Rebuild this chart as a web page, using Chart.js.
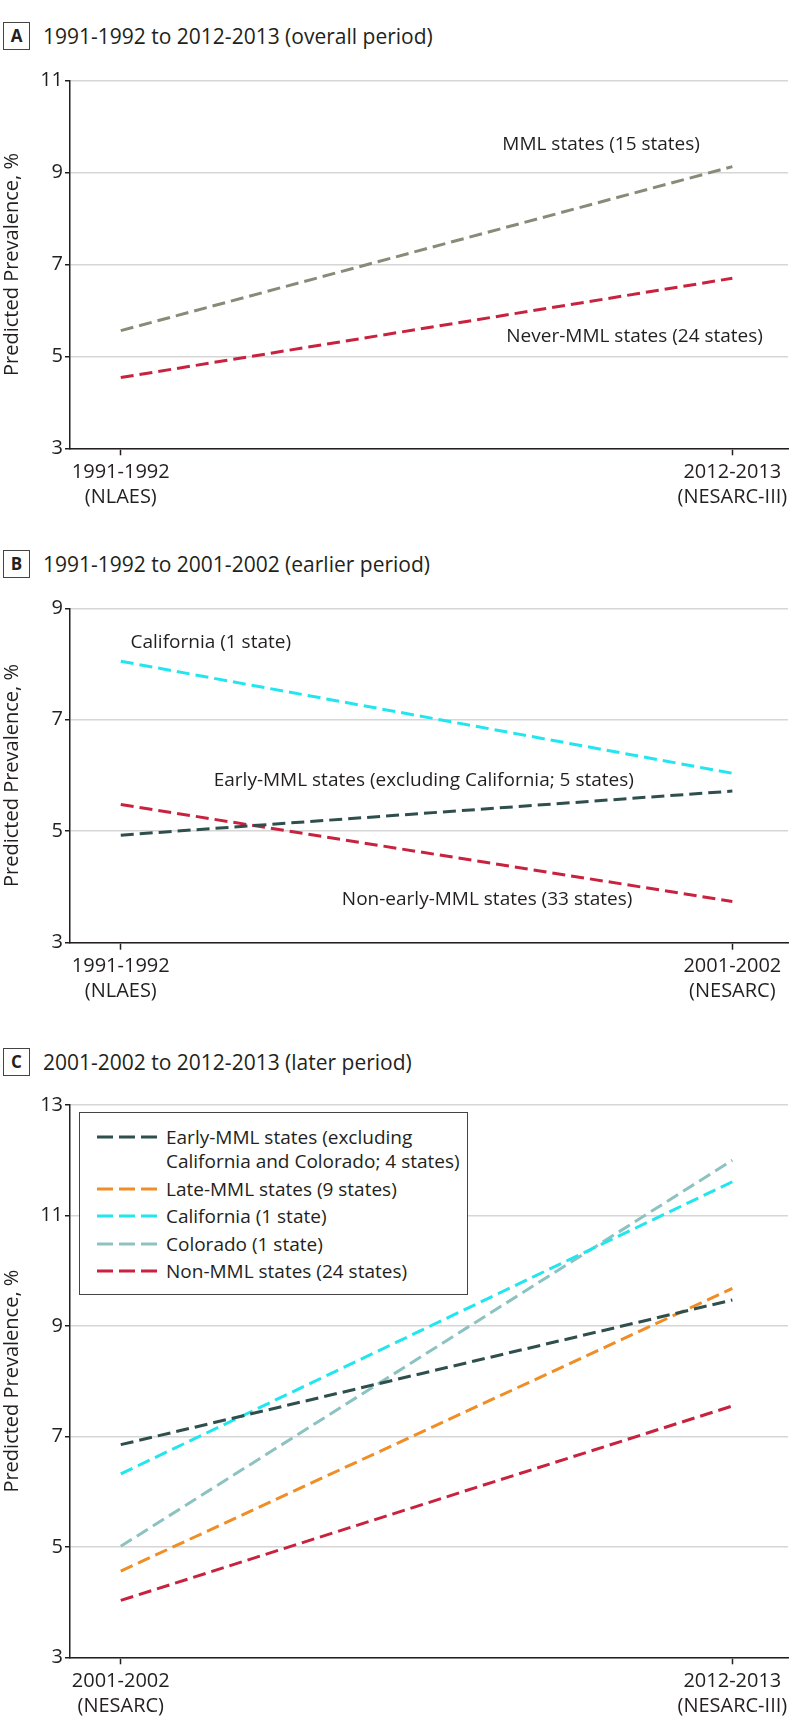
<!DOCTYPE html>
<html>
<head>
<meta charset="utf-8">
<script src="https://cdn.jsdelivr.net/npm/chart.js@4.4.1/dist/chart.umd.min.js"></script>
<style>
body { margin: 0; background: #fff; font-family: "Open Sans", sans-serif; color: #231f20; }
#page { position: relative; width: 794px; height: 1731px; overflow: hidden; }
.ttl { position: absolute; left: 0; height: 30px; display: flex; align-items: center; font-size: 21px; white-space: nowrap; }
.ttl b { display: inline-block; box-sizing: border-box; width: 27px; height: 28px; margin-left: 3px; margin-right: 13px;
  border: 1px solid #444; font-size: 17px; line-height: 26px; text-align: center; }
.wrap { position: absolute; left: 0; width: 794px; }
#legendC { position: absolute; left: 79px; top: 1112px; width: 389px; height: 183px; box-sizing: border-box;
  border: 1px solid #444; background: #fff; padding-top: 12px; font-size: 19px; }
#legendC .row { display: flex; align-items: flex-start; line-height: 24px; margin-bottom: 3.5px; }
#legendC svg { flex: none; margin-left: 17px; margin-right: 9px; }
</style>
</head>
<body>
<div id="page">
  <div class="ttl" style="top:21px"><b>A</b>1991-1992 to 2012-2013 (overall period)</div>
  <div class="wrap" style="top:60px;height:460px"><canvas id="chartA" width="794" height="460"></canvas></div>

  <div class="ttl" style="top:549px"><b>B</b>1991-1992 to 2001-2002 (earlier period)</div>
  <div class="wrap" style="top:560px;height:460px"><canvas id="chartB" width="794" height="460"></canvas></div>

  <div class="ttl" style="top:1047px"><b>C</b>2001-2002 to 2012-2013 (later period)</div>
  <div class="wrap" style="top:1080px;height:651px"><canvas id="chartC" width="794" height="651"></canvas></div>
  <div id="legendC"></div>
</div>
<script>
// survey periods (x axis, two-line labels)
const periodsA = [["1991-1992", "(NLAES)"], ["2012-2013", "(NESARC-III)"]];
const periodsB = [["1991-1992", "(NLAES)"], ["2001-2002", "(NESARC)"]];
const periodsC = [["2001-2002", "(NESARC)"], ["2012-2013", "(NESARC-III)"]];

// y ticks
const yTicksA = [3, 5, 7, 9, 11];
const yTicksB = [3, 5, 7, 9];
const yTicksC = [3, 5, 7, 9, 11, 13];

// predicted prevalence, %
const mmlA = [5.56, 9.13];
const neverMmlA = [4.54, 6.70];

const californiaB = [8.05, 6.04];
const earlyMmlB = [4.93, 5.72];
const nonEarlyMmlB = [5.48, 3.74];

const earlyMmlC = [6.85, 9.47];
const lateMmlC = [4.56, 9.68];
const californiaC = [6.32, 11.61];
const coloradoC = [5.01, 12.0];
const nonMmlC = [4.03, 7.55];

var textColor = "#231f20";
var font = "Open Sans";

function toPoints(vals) {
    var pts = [];
    for (var i = 0; i < vals.length; i++) {
        pts.push({ x: i, y: vals[i] });
    }
    return pts;
}

function line(label, vals, color) {
    return {
        label: label,
        data: toPoints(vals),
        borderColor: color,
        borderWidth: 3,
        borderDash: [13, 6],
        pointRadius: 0,
        fill: false,
        tension: 0
    };
}

// in-plot labels, drawn at data coordinates
var notesPlugin = {
    id: "notes",
    afterDatasetsDraw: function (chart, args, opts) {
        var notes = opts.items || [];
        var ctx = chart.ctx;
        ctx.save();
        ctx.font = "19px '" + font + "'";
        ctx.fillStyle = textColor;
        ctx.textBaseline = "middle";
        for (var i = 0; i < notes.length; i++) {
            var n = notes[i];
            ctx.textAlign = n.align;
            ctx.fillText(n.text, chart.scales.x.getPixelForValue(n.x), chart.scales.y.getPixelForValue(n.y));
        }
        ctx.restore();
    }
};

function makeChart(id, datasets, periods, yTicks, padTop, xHeight, notes) {
    return new Chart(id, {
        type: "line",
        data: { datasets: datasets },
        plugins: [notesPlugin],
        options: {
            responsive: false,
            animation: false,
            layout: { padding: { top: padTop, right: 6, left: 0, bottom: 0 } },
            plugins: {
                legend: { display: false },
                tooltip: { enabled: false },
                notes: { items: notes }
            },
            scales: {
                x: {
                    type: "linear",
                    min: -0.083,
                    max: 1.091,
                    afterBuildTicks: function (s) {
                        s.ticks = periods.map(function (p, i) { return { value: i }; });
                    },
                    afterFit: function (s) { s.height = xHeight; },
                    ticks: {
                        autoSkip: false,
                        maxRotation: 0,
                        padding: 4,
                        color: textColor,
                        font: { family: font, size: 20, lineHeight: 1.25 },
                        callback: function (v) { return periods[v]; }
                    },
                    grid: { drawOnChartArea: false, drawTicks: true, tickLength: 7, tickColor: textColor, tickWidth: 1.5 },
                    border: { display: true, color: textColor, width: 1.5 }
                },
                y: {
                    min: yTicks[0],
                    max: yTicks[yTicks.length - 1],
                    afterBuildTicks: function (s) {
                        s.ticks = yTicks.map(function (v) { return { value: v }; });
                    },
                    afterFit: function (s) { s.width = 70; },
                    ticks: { padding: 2, color: textColor, font: { family: font, size: 20 } },
                    grid: { color: "#d6d6d6", lineWidth: 1.5, tickLength: 5, tickColor: textColor, tickWidth: 1.5 },
                    border: { display: true, color: textColor, width: 1.5 },
                    title: {
                        display: true,
                        text: "Predicted Prevalence, %",
                        color: textColor,
                        padding: 0,
                        font: { family: font, size: 20, lineHeight: 1.2 }
                    }
                }
            }
        }
    });
}

makeChart("chartA", [
    line("MML states (15 states)", mmlA, "#8a8a78"),
    line("Never-MML states (24 states)", neverMmlA, "#c8223f")
], periodsA, yTicksA, 20.7, 71.7, [
    { text: "MML states (15 states)", x: 0.947, y: 9.6, align: "right" },
    { text: "Never-MML states (24 states)", x: 1.05, y: 5.43, align: "right" }
]);

makeChart("chartB", [
    line("California (1 state)", californiaB, "#22e6ef"),
    line("Early-MML states (excluding California; 5 states)", earlyMmlB, "#2f4f4d"),
    line("Non-early-MML states (33 states)", nonEarlyMmlB, "#c8223f")
], periodsB, yTicksB, 48.3, 77.3, [
    { text: "California (1 state)", x: 0.016, y: 8.38, align: "left" },
    { text: "Early-MML states (excluding California; 5 states)", x: 0.152, y: 5.91, align: "left" },
    { text: "Non-early-MML states (33 states)", x: 0.3615, y: 3.77, align: "left" }
]);

var dsC = [
    line("Early-MML states (excluding|California and Colorado; 4 states)", earlyMmlC, "#2f4f4d"),
    line("Late-MML states (9 states)", lateMmlC, "#f08e26"),
    line("California (1 state)", californiaC, "#22e6ef"),
    line("Colorado (1 state)", coloradoC, "#8cc3c1"),
    line("Non-MML states (24 states)", nonMmlC, "#c8223f")
];
makeChart("chartC", dsC, periodsC, yTicksC, 25, 73.7, []);

// html legend for panel C
var leg = document.querySelector("#legendC");
for (var i = 0; i < dsC.length; i++) {
    var row = document.createElement("div");
    row.className = "row";
    row.innerHTML = '<svg width="60" height="24"><line x1="0" y1="12" x2="60" y2="12" stroke="' + dsC[i].borderColor +
        '" stroke-width="3" stroke-dasharray="16 6"/></svg><span>' + dsC[i].label.split("|").join("<br>") + '</span>';
    leg.appendChild(row);
}
</script>
</body>
</html>
